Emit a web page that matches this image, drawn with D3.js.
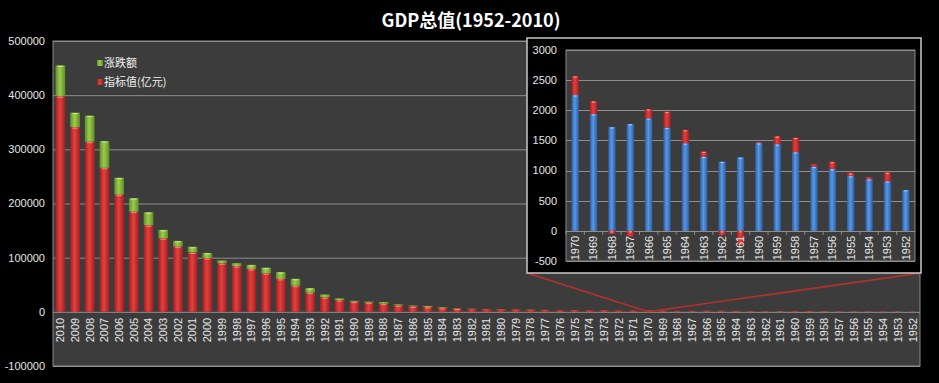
<!DOCTYPE html>
<html><head><meta charset="utf-8">
<script src="https://cdn.jsdelivr.net/npm/d3@7/dist/d3.min.js"></script>
<style>html,body{margin:0;padding:0;background:#000;}svg{display:block;}</style>
</head><body>
<svg id="chart" width="939" height="383"></svg>
<script>
const title = "GDP总值(1952-2010)";
const seriesNames = ["指标值(亿元)", "涨跌额"];
const years = ["2010","2009","2008","2007","2006","2005","2004","2003","2002","2001","2000","1999","1998","1997","1996","1995","1994","1993","1992","1991","1990","1989","1988","1987","1986","1985","1984","1983","1982","1981","1980","1979","1978","1977","1976","1975","1974","1973","1972","1971","1970","1969","1968","1967","1966","1965","1964","1963","1962","1961","1960","1959","1958","1957","1956","1955","1954","1953","1952"];
const gdpValues = [397983,340903,314045,265810,216314,184937,159878,135823,120333,109655,99215,89677,84402,78973,71177,60794,48198,35334,26924,21781,18668,16992,15043,12059,10275,9016,7208,5963,5323,4892,4546,4063,3645,3221,2944,2997,2790,2721,2518,2426,2253,1938,1723,1774,1868,1716,1454,1233,1149,1220,1457,1439,1307,1068,1028,910,859,824,679];
const changeValues = [57080,26858,48235,49496,31377,25059,24055,15490,10678,10440,9538,5275,5429,7796,10383,12596,12864,8410,5143,3113,1676,1949,2984,1784,1259,1808,1245,640,431,346,483,418,424,277,-53,207,69,203,92,173,315,215,-51,-94,152,262,221,84,-71,-237,18,132,239,40,118,51,35,145,0];
const mainTicks = [-100000,0,100000,200000,300000,400000,500000];
const insetYears = ["1970","1969","1968","1967","1966","1965","1964","1963","1962","1961","1960","1959","1958","1957","1956","1955","1954","1953","1952"];
const insetTicks = [-500,0,500,1000,1500,2000,2500,3000];

const svg = d3.select("#chart");
const defs = svg.append("defs");
function grad(id, edge, mid) {
  const g = defs.append("linearGradient").attr("id", id).attr("x1","0").attr("x2","1").attr("y1","0").attr("y2","0");
  g.append("stop").attr("offset","0").attr("stop-color", edge);
  g.append("stop").attr("offset","0.45").attr("stop-color", mid);
  g.append("stop").attr("offset","1").attr("stop-color", edge);
}
grad("gRed", "#a41e1e", "#e2413f");
grad("gGreen", "#5f8f22", "#9ccb4e");
grad("gBlue", "#2a5ea8", "#5a97e2");

svg.append("rect").attr("width",939).attr("height",383).attr("fill","#000");

const rows = years.map((y,i)=>({year:y, value:gdpValues[i], change:changeValues[i]}));
const stack = d3.stack().keys(["value","change"]).offset(d3.stackOffsetDiverging);
const stacked = stack(rows);

// ---------- main chart ----------
const x = d3.scaleBand().domain(years).range([53, 920]).paddingInner(0.34).paddingOuter(0.17);
const y = d3.scaleLinear().domain([-100000, 500000]).range([366, 41]);

svg.append("rect").attr("x",53).attr("y",41).attr("width",867).attr("height",325)
  .attr("fill","#3c3c3c").attr("stroke","#8a8a8a").attr("stroke-width",1);

svg.append("g").selectAll("line").data(mainTicks).join("line")
  .attr("x1",53).attr("x2",920).attr("y1",d=>y(d)+0.5).attr("y2",d=>y(d)+0.5)
  .attr("stroke","#8e8e8e").attr("stroke-width",1);

svg.append("g").selectAll("text").data(mainTicks).join("text")
  .attr("x",45).attr("y",d=>y(d)).attr("dy","0.35em").attr("text-anchor","end")
  .attr("fill","#e6e6e6").attr("font-family","Liberation Sans, Arial, sans-serif").attr("font-size",11)
  .text(d=>d);

const fills = {value:"url(#gRed)", change:"url(#gGreen)"};
const tops = {value:"#f08a80", change:"#c8e890"};
stacked.forEach(s=>{
  const g = svg.append("g");
  g.selectAll("rect").data(s).join("rect")
    .attr("x",d=>x(d.data.year)).attr("width",x.bandwidth())
    .attr("y",d=>y(Math.max(d[0],d[1]))).attr("height",d=>Math.abs(y(d[0])-y(d[1])))
    .attr("fill",fills[s.key]);
  g.selectAll("line").data(s.filter(d=>Math.abs(y(d[0])-y(d[1]))>3)).join("line")
    .attr("x1",d=>x(d.data.year)+2).attr("x2",d=>x(d.data.year)+x.bandwidth()-2)
    .attr("y1",d=>y(Math.max(d[0],d[1]))+1).attr("y2",d=>y(Math.max(d[0],d[1]))+1)
    .attr("stroke",tops[s.key]).attr("stroke-width",1);
});

svg.append("g").selectAll("text").data(years).join("text")
  .attr("transform",d=>`translate(${x(d)+x.bandwidth()/2},${y(0)+6}) rotate(-90)`)
  .attr("dy","0.35em").attr("text-anchor","end")
  .attr("fill","#e6e6e6").attr("font-family","Liberation Sans, Arial, sans-serif").attr("font-size",11)
  .text(d=>d);

// legend
const legend = svg.append("g").attr("font-family","Noto Sans CJK SC, sans-serif").attr("font-size",11).attr("fill","#f0f0f0");
[["涨跌额","url(#gGreen)",63],["指标值(亿元)","url(#gRed)",82]].forEach(([t,c,yy])=>{
  legend.append("rect").attr("x",97).attr("y",yy-3).attr("width",6).attr("height",6).attr("fill",c);
  legend.append("text").attr("x",104).attr("y",yy).attr("dy","0.35em").text(t);
});

// title
svg.append("text").attr("x",471).attr("y",21).attr("text-anchor","middle")
  .attr("fill","#ffffff").attr("font-family","Noto Sans CJK SC, sans-serif").attr("font-weight","bold").attr("font-size",18)
  .attr("dy","0.35em").text(title);

// ---------- inset ----------
const insetRows = rows.filter(r=>insetYears.includes(r.year));
const insetStacked = stack(insetRows);
const xi = d3.scaleBand().domain(insetYears).range([566, 915]).paddingInner(0.6).paddingOuter(0.3);
const yi = d3.scaleLinear().domain([-500, 3000]).range([261, 50]);

// zoom connector lines
const cx = x("1970") + x.bandwidth()/2, cy = y(0);
svg.append("polyline").attr("points",`527,273 ${cx},${cy} 921,273`)
  .attr("fill","none").attr("stroke","#b8302c").attr("stroke-width",1.5);

svg.append("rect").attr("x",527).attr("y",38).attr("width",394).attr("height",235)
  .attr("fill","#000").attr("stroke","#c8c8c8").attr("stroke-width",1.5);

svg.append("rect").attr("x",566).attr("y",50).attr("width",349).attr("height",211)
  .attr("fill","#3c3c3c").attr("stroke","#8a8a8a").attr("stroke-width",1);

svg.append("g").selectAll("line").data(insetTicks).join("line")
  .attr("x1",566).attr("x2",915).attr("y1",d=>Math.round(yi(d))+0.5).attr("y2",d=>Math.round(yi(d))+0.5)
  .attr("stroke","#8e8e8e").attr("stroke-width",1);

svg.append("g").selectAll("text").data(insetTicks).join("text")
  .attr("x",557).attr("y",d=>yi(d)).attr("dy","0.35em").attr("text-anchor","end")
  .attr("fill","#e6e6e6").attr("font-family","Liberation Sans, Arial, sans-serif").attr("font-size",11)
  .text(d=>d);

const ifills = {value:"url(#gBlue)", change:"url(#gRed)"};
const itops = {value:"#a8d0ff", change:"#f6a0a0"};
insetStacked.forEach(s=>{
  const g = svg.append("g");
  g.selectAll("rect").data(s).join("rect")
    .attr("x",d=>xi(d.data.year)).attr("width",xi.bandwidth())
    .attr("y",d=>yi(Math.max(d[0],d[1]))).attr("height",d=>Math.abs(yi(d[0])-yi(d[1])))
    .attr("fill",ifills[s.key]);
  g.selectAll("line").data(s.filter(d=>Math.abs(yi(d[0])-yi(d[1]))>3)).join("line")
    .attr("x1",d=>xi(d.data.year)+2).attr("x2",d=>xi(d.data.year)+xi.bandwidth()-2)
    .attr("y1",d=>yi(Math.max(d[0],d[1]))+1).attr("y2",d=>yi(Math.max(d[0],d[1]))+1)
    .attr("stroke",itops[s.key]).attr("stroke-width",1);
});

// inset ticks along zero
svg.append("g").selectAll("line").data(insetYears).join("line")
  .attr("x1",d=>xi(d)-xi.step()*xi.paddingInner()/2).attr("x2",d=>xi(d)-xi.step()*xi.paddingInner()/2)
  .attr("y1",yi(0)).attr("y2",yi(0)+4).attr("stroke","#8e8e8e");

svg.append("g").selectAll("text").data(insetYears).join("text")
  .attr("transform",d=>`translate(${xi(d)+xi.bandwidth()/2},${yi(0)+5}) rotate(-90)`)
  .attr("dy","0.35em").attr("text-anchor","end")
  .attr("fill","#e6e6e6").attr("font-family","Liberation Sans, Arial, sans-serif").attr("font-size",11)
  .text(d=>d);
</script>
</body></html>
